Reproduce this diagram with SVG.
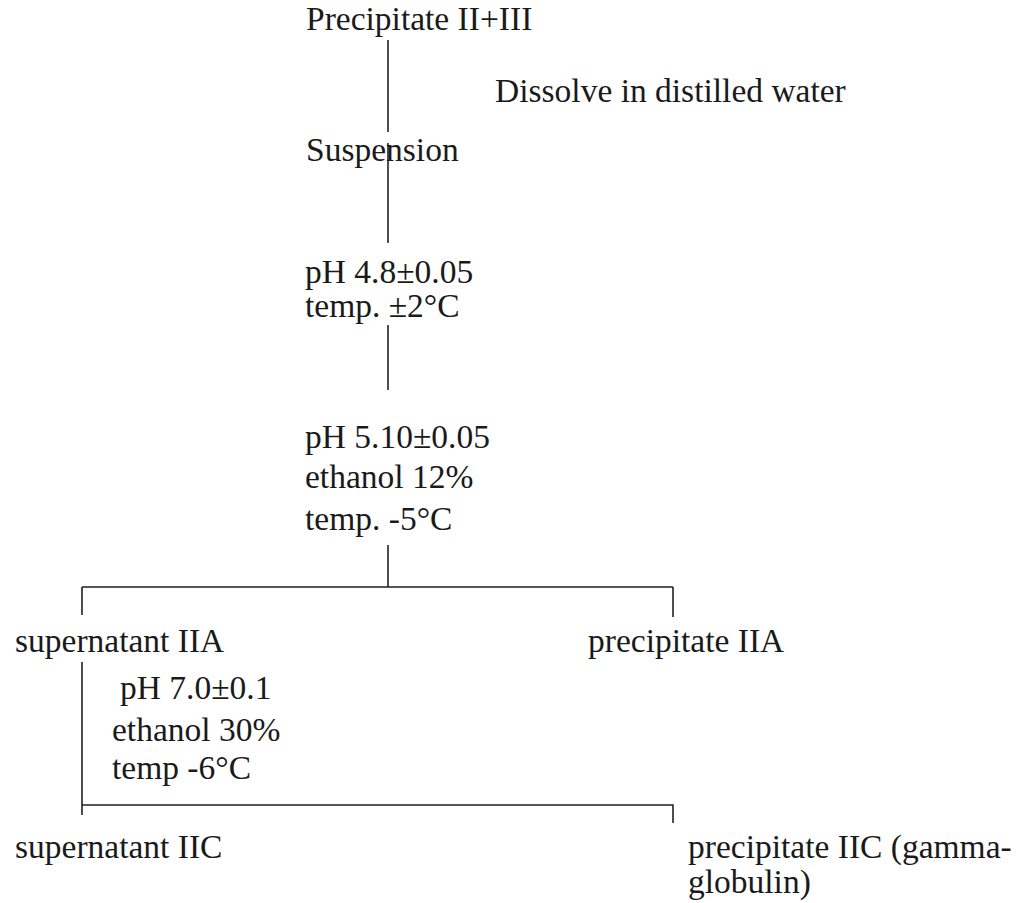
<svg xmlns="http://www.w3.org/2000/svg" width="1021" height="903" viewBox="0 0 1021 903">
<style>
text{font-family:"Liberation Serif","Times New Roman",serif;font-size:33.5px;fill:#1a1a1a}
.ln{stroke:#222;stroke-width:1.6;fill:none}
</style>
<rect width="1021" height="903" fill="#fff"/>
<g id="connectors">
<path class="ln" d="M388 40V132M388 143V243M388 325V390M388 545V587M82 587H673M82 587V615M673 587V617M82 662V815M82 805H673V823"/>
</g>
<g id="n1"><text x="306" y="30">Precipitate II+III</text></g>
<g id="n2"><text x="495" y="102">Dissolve in distilled water</text></g>
<g id="n3"><text x="306" y="161">Suspension</text></g>
<g id="n4"><text x="305" y="283">pH 4.8±0.05</text><text x="305" y="317">temp. ±2°C</text></g>
<g id="n5"><text x="305" y="448">pH 5.10±0.05</text><text x="305" y="488">ethanol 12%</text><text x="305" y="530">temp. -5°C</text></g>
<g id="n6"><text x="15" y="652">supernatant IIA</text></g>
<g id="n7"><text x="588" y="652">precipitate IIA</text></g>
<g id="n8"><text x="120" y="699">pH 7.0±0.1</text><text x="112" y="741">ethanol 30%</text><text x="112" y="779">temp -6°C</text></g>
<g id="n9"><text x="15" y="858">supernatant IIC</text></g>
<g id="n10"><text x="688" y="858">precipitate IIC (gamma-</text><text x="688" y="893">globulin)</text></g>
</svg>
